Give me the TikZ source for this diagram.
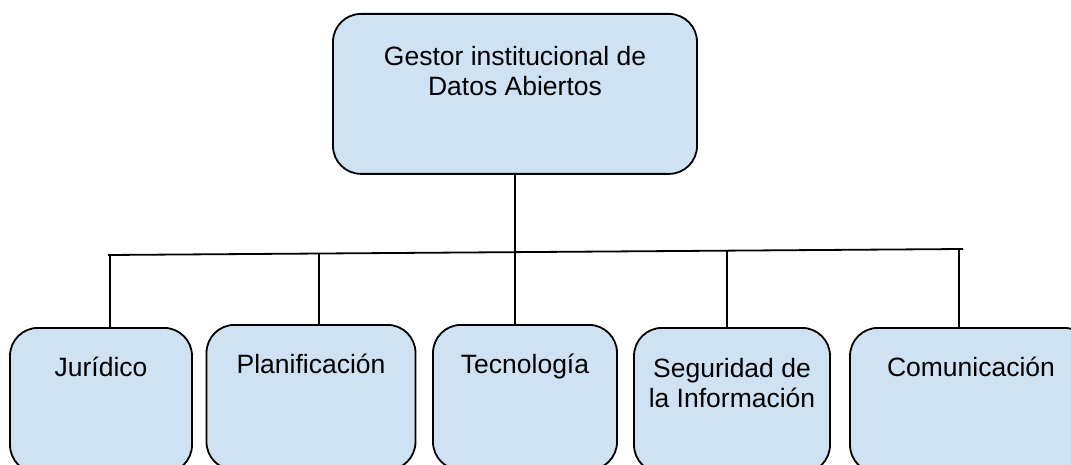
\documentclass[tikz,border=0pt]{standalone}
\usepackage{fontspec}
\setmainfont{Liberation Sans}
\definecolor{boxblue}{RGB}{207,226,243}

\begin{document}
\begin{tikzpicture}[
  x=1pt, y=-1pt,                            % work in pixels, y downwards
  font=\fontsize{26.5}{30}\selectfont,
  unit/.style = {rectangle,
                 draw,
                 fill=boxblue,
                 line width=1.8pt,
                 rounded corners=28pt,
                 align=center,
                 inner sep=0pt,
                 anchor=north},
  dept/.style = {unit,
                 text height=49pt,
                 text depth=96pt},
  link/.style = {line width=1.8pt}
]
\useasboundingbox (0,0) rectangle (1071,465);
\clip (0,0) rectangle (1071,465);

\node[unit, minimum width=364pt, text height=82pt, text depth=78pt] (gestor) at (515,13)
  {Gestor institucional de\\Datos Abiertos};

\node[dept, minimum width=182pt] (juridico)     at (101,327) {Jurídico};
\node[dept, minimum width=209pt] (planif)       at (311,324) {Planificación};
\node[dept, minimum width=184pt] (tecnologia)   at (525,324) {Tecnología};
\node[dept, minimum width=196pt, text height=80pt, text depth=65pt] (seguridad) at (732,327)
  {Seguridad de\\la Información};
\node[dept, minimum width=242pt] (comunicacion) at (971,327) {Comunicación};

% horizontal bus
\coordinate (busL) at (108,255);
\coordinate (busR) at (963,249);
\draw[link] (busL) -- (busR);

\coordinate (dropJ) at (110,255);
\coordinate (dropP) at (319,253.5);
\coordinate (dropS) at (727,250.5);
\coordinate (dropC) at (959,249);

\draw[link] (gestor) -- (gestor.south |- tecnologia.north);
\draw[link] (dropJ) -- (dropJ |- juridico.north);
\draw[link] (dropP) -- (dropP |- planif.north);
\draw[link] (dropS) -- (dropS |- seguridad.north);
\draw[link] (dropC) -- (dropC |- comunicacion.north);

\end{tikzpicture}
\end{document}
